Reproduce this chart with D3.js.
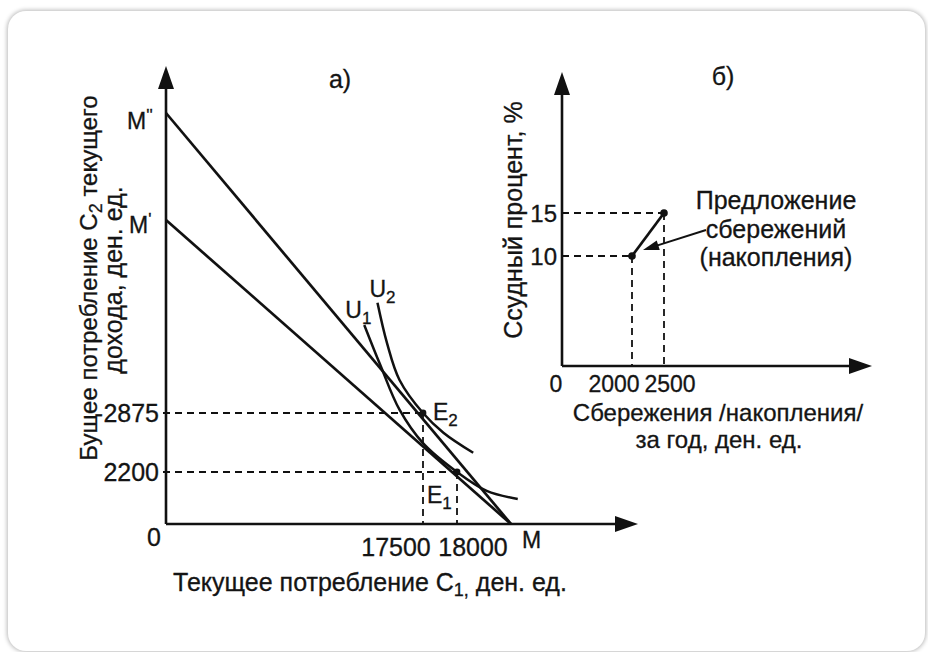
<!DOCTYPE html>
<html lang="ru">
<head>
	<meta charset="UTF-8">
	<title>Межвременной выбор и предложение сбережений</title>
	<script src="https://cdn.jsdelivr.net/npm/d3@7"></script>
	<style>
		html, body { margin: 0; padding: 0; background: #fff; }
		#card {
			position: absolute; left: 8px; top: 11px; width: 917px; height: 640px;
			border-radius: 18px; background: #fff;
			box-shadow: 0 0 4px 1px rgba(0,0,0,0.28);
		}
		#vis { position: absolute; left: 0; top: 0; }
		text {
			font-family: "Liberation Sans", Arial, sans-serif;
			fill: #141414; stroke: #141414; stroke-width: 0.3px;
		}
	</style>
</head>
<body>
	<div id="card"></div>
	<div id="vis"></div>

	<script>
		// ---- panel a): current vs future consumption ----
		var incomeM = 20000;            // M  - current income
		var interceptM1 = 22000;        // M' - at 10 %
		var interceptM2 = 23000;        // M'' - at 15 %
		var c1Ticks = [17500, 18000];
		var c2Ticks = [2200, 2875];
		var equilibria = [
			{ name: "E", sub: "1", c1: 18000, c2: 2200 },
			{ name: "E", sub: "2", c1: 17500, c2: 2875 }
		];
		// indifference curves
		var curveU1 = [[13500, 11600], [14600, 7600], [15900, 3200], [17500, 2530], [18000, 2200], [19100, 1400], [20250, 1060]];
		var curveU2 = [[14400, 13800], [15050, 9800], [15900, 6150], [17500, 2875], [17800, 2650], [18600, 2420]];

		// ---- panel b): savings supply ----
		var savings = [2000, 2500];
		var rates = [10, 15];

		var width = 928, height = 652;
		var svg = d3.select("#vis").append("svg")
			.attr("width", width)
			.attr("height", height);

		// the drawing is not to scale, so piecewise scales
		var x1 = d3.scaleLinear().domain([0, c1Ticks[0], c1Ticks[1], incomeM]).range([166, 423, 457, 511]);
		var y1 = d3.scaleLinear().domain([0, c2Ticks[0], c2Ticks[1], interceptM1, interceptM2]).range([524, 472, 413, 220, 113]);
		var x2 = d3.scaleLinear().domain([0, savings[0], savings[1]]).range([562, 632, 664]);
		var y2 = d3.scaleLinear().domain([0, rates[0], rates[1]]).range([366, 256, 213]);

		function line(g, xa, ya, xb, yb, w, dash) {
			var l = g.append("line")
				.attr("x1", xa).attr("y1", ya)
				.attr("x2", xb).attr("y2", yb)
				.attr("stroke", "#111")
				.attr("stroke-width", w);
			if (dash) l.attr("stroke-dasharray", dash);
			return l;
		}
		function arrowUp(g, x, yTip) {
			g.append("path")
				.attr("d", "M" + x + "," + yTip + "L" + (x - 8) + "," + (yTip + 23) + "L" + (x + 8) + "," + (yTip + 23) + "Z")
				.attr("fill", "#111");
		}
		function arrowRight(g, xTip, y) {
			g.append("path")
				.attr("d", "M" + xTip + "," + y + "L" + (xTip - 23) + "," + (y - 8) + "L" + (xTip - 23) + "," + (y + 8) + "Z")
				.attr("fill", "#111");
		}
		function label(g, x, y, txt, size, anchor) {
			return g.append("text")
				.attr("x", x).attr("y", y)
				.attr("font-size", size || 25)
				.attr("text-anchor", anchor || "start")
				.text(txt);
		}

		// ================= panel a =================
		var a = svg.append("g");
		var dash = "7,5";

		// guide lines
		equilibria.forEach(function(e) {
			line(a, x1(0) - 3, y1(e.c2), x1(e.c1), y1(e.c2), 1.8, dash);
			line(a, x1(e.c1), y1(e.c2), x1(e.c1), y1(0), 1.8, dash);
		});

		// axes
		line(a, x1(0), y1(0), x1(0), 86, 2.6);
		arrowUp(a, x1(0), 66);
		line(a, x1(0), y1(0), 618, y1(0), 2.6);
		arrowRight(a, 638, y1(0));

		// budget lines M''M and M'M
		line(a, x1(0), y1(interceptM2), x1(incomeM), y1(0), 2.7);
		line(a, x1(0), y1(interceptM1), x1(incomeM), y1(0), 2.7);

		// indifference curves
		var curve = d3.line()
			.x(function(d) { return x1(d[0]); })
			.y(function(d) { return y1(d[1]); })
			.curve(d3.curveCatmullRom.alpha(0.5));
		[curveU1, curveU2].forEach(function(c) {
			a.append("path")
				.attr("d", curve(c))
				.attr("fill", "none")
				.attr("stroke", "#111")
				.attr("stroke-width", 2.5);
		});

		// equilibrium points
		a.selectAll("circle.eq")
			.data(equilibria)
			.enter().append("circle")
			.attr("class", "eq")
			.attr("cx", function(d) { return x1(d.c1); })
			.attr("cy", function(d) { return y1(d.c2); })
			.attr("r", 3.4)
			.attr("fill", "#111");

		// tick labels
		label(a, x1(0) - 12, y1(0) + 22, "0", 25, "middle");
		c2Ticks.forEach(function(v) {
			label(a, x1(0) - 7, y1(v) + 9, String(v), 25, "end");
		});
		label(a, x1(c1Ticks[0]) - 27, y1(0) + 32, String(c1Ticks[0]), 25, "middle");
		label(a, x1(c1Ticks[1]) + 16, y1(0) + 32, String(c1Ticks[1]), 25, "middle");

		// point names
		label(a, x1(incomeM) + 11, y1(0) + 24, "M", 23);
		var m2 = label(a, x1(0) - 39, y1(interceptM2) + 16, "M", 23);
		m2.append("tspan").attr("dy", -8).attr("font-size", 17).text("''");
		var m1 = label(a, x1(0) - 37, y1(interceptM1) + 13, "M", 23);
		m1.append("tspan").attr("dy", -8).attr("font-size", 17).text("'");

		var e2 = label(a, x1(equilibria[1].c1) + 10, y1(equilibria[1].c2) + 7, "E", 23);
		e2.append("tspan").attr("dy", 6).attr("font-size", 17).text("2");
		var e1 = label(a, x1(equilibria[0].c1) - 30, y1(equilibria[0].c2) + 31, "E", 23);
		e1.append("tspan").attr("dy", 6).attr("font-size", 17).text("1");

		var u1 = label(a, x1(curveU1[0][0]) - 19, y1(curveU1[0][1]) - 7, "U", 23);
		u1.append("tspan").attr("dy", 6).attr("font-size", 17).text("1");
		var u2 = label(a, x1(curveU2[0][0]) - 8, y1(curveU2[0][1]) - 6, "U", 23);
		u2.append("tspan").attr("dy", 6).attr("font-size", 17).text("2");

		label(a, 340, 88, "а)", 25, "middle");

		// axis titles
		var xt = label(a, 370, 591, "Текущее потребление C", 25, "middle");
		xt.append("tspan").attr("dy", 5).attr("font-size", 18).text("1,");
		xt.append("tspan").attr("dy", -5).text(" ден. ед.");

		var yt = a.append("text")
			.attr("transform", "translate(97,278) rotate(-90)")
			.attr("font-size", 24)
			.attr("text-anchor", "middle");
		yt.append("tspan").text("Бущее потребление C");
		yt.append("tspan").attr("dy", 5).attr("font-size", 18).text("2");
		yt.append("tspan").attr("dy", -5).text(" текущего");
		label(a, 0, 0, "дохода, ден. ед.", 25, "middle")
			.attr("transform", "translate(122,280) rotate(-90)");

		// ================= panel b =================
		var b = svg.append("g");

		line(b, x2(0), y2(rates[1]), x2(savings[1]), y2(rates[1]), 1.8, dash);
		line(b, x2(0), y2(rates[0]), x2(savings[0]), y2(rates[0]), 1.8, dash);
		line(b, x2(savings[1]), y2(rates[1]), x2(savings[1]), y2(0), 1.8, dash);
		line(b, x2(savings[0]), y2(rates[0]), x2(savings[0]), y2(0), 1.8, dash);

		line(b, x2(0), y2(0), x2(0), 92, 2.6);
		arrowUp(b, x2(0), 72);
		line(b, x2(0), y2(0), 852, y2(0), 2.6);
		arrowRight(b, 872, y2(0));

		// supply of savings
		var pts = savings.map(function(s, i) { return [x2(s), y2(rates[i])]; });
		b.append("path")
			.attr("d", d3.line()(pts))
			.attr("stroke", "#111")
			.attr("stroke-width", 2.7)
			.attr("fill", "none");
		b.selectAll("circle")
			.data(pts)
			.enter().append("circle")
			.attr("cx", function(d) { return d[0]; })
			.attr("cy", function(d) { return d[1]; })
			.attr("r", 3.8)
			.attr("fill", "#111");

		// pointer from the caption to the curve
		var tipX = pts[0][0] + 11, tipY = pts[0][1] - 6;
		var fromX = 706, fromY = 230;
		var ang = Math.atan2(tipY - fromY, tipX - fromX);
		line(b, fromX, fromY, tipX - 12 * Math.cos(ang), tipY - 12 * Math.sin(ang), 1.9);
		var hl = 16, hw = 5;
		var bx = tipX - hl * Math.cos(ang), by = tipY - hl * Math.sin(ang);
		b.append("path")
			.attr("d", "M" + tipX + "," + tipY +
				"L" + (bx - hw * Math.sin(ang)) + "," + (by + hw * Math.cos(ang)) +
				"L" + (bx + hw * Math.sin(ang)) + "," + (by - hw * Math.cos(ang)) + "Z")
			.attr("fill", "#111");

		label(b, 776, 209, "Предложение", 25, "middle");
		label(b, 776, 238, "сбережений", 25, "middle");
		label(b, 776, 266, "(накопления)", 25, "middle");

		// ticks
		label(b, x2(0) - 6, y2(0) + 26, "0", 23, "middle");
		rates.forEach(function(v) {
			label(b, x2(0) - 5, y2(v) + 9, String(v), 24, "end");
		});
		label(b, x2(savings[0]) - 18, y2(0) + 26, String(savings[0]), 23, "middle");
		label(b, x2(savings[1]) + 6, y2(0) + 26, String(savings[1]), 23, "middle");

		label(b, 723, 85, "б)", 25, "middle");

		label(b, 718, 421, "Сбережения /накопления/", 24, "middle");
		label(b, 719, 448, "за год, ден. ед.", 24, "middle");
		label(b, 0, 0, "Ссудный процент, %", 25, "middle")
			.attr("transform", "translate(522,220) rotate(-90)");
	</script>
</body>
</html>
